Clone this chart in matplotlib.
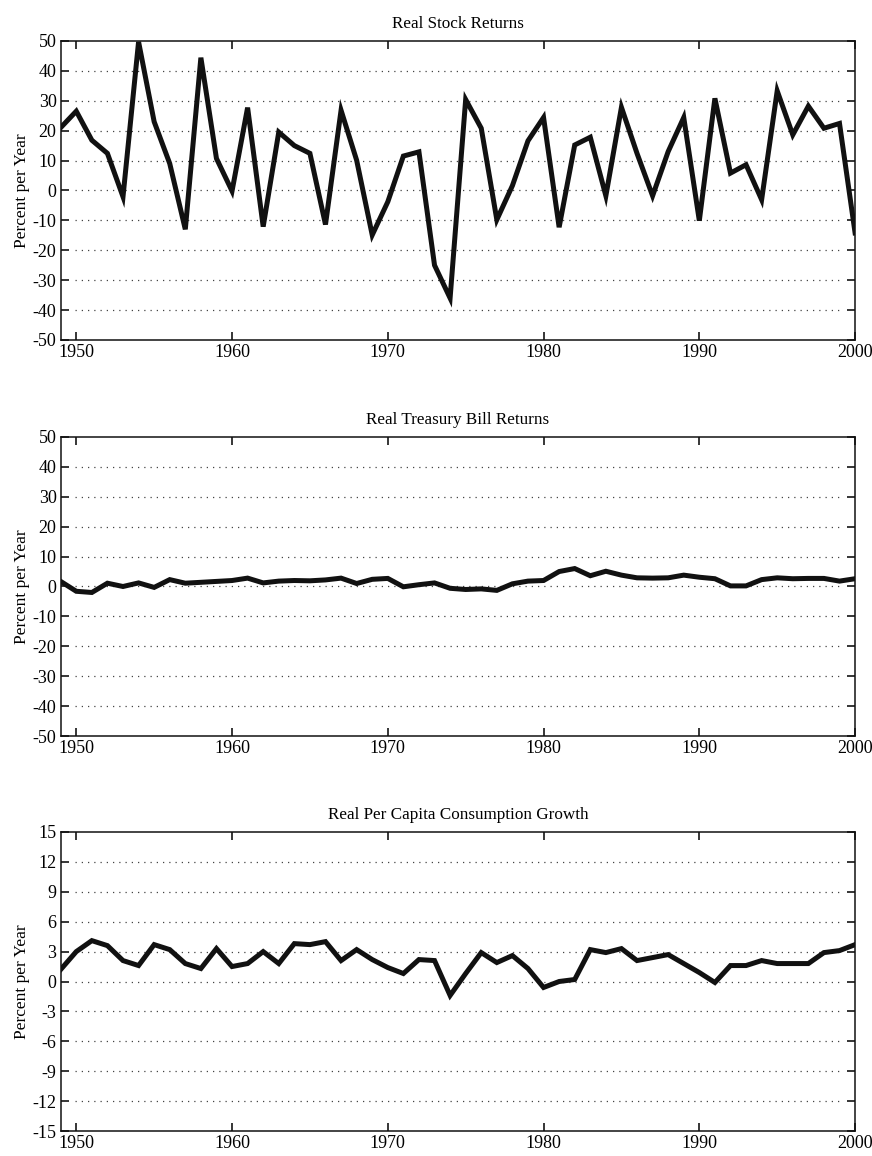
import numpy as np
import matplotlib
matplotlib.use("Agg")
import matplotlib.pyplot as plt

years = np.arange(1949, 2001)

stock = [21, 26.5, 16.8, 12.4, -2.1, 49.7, 23, 9, -13, 44.4,
         10.7, -0.2, 27.7, -12.1, 19.5, 15, 12.4, -11.4, 26.8, 10.1,
         -14.9, -3.8, 11.5, 12.9, -25, -36, 30.4, 20.8, -9.8, 1.6,
         16.6, 24.4, -12.3, 15.2, 17.8, -1.8, 27.8, 12.4, -1.8, 13,
         24.4, -10.1, 30.8, 5.8, 8.6, -3.1, 33.3, 18.6, 28.2, 20.8,
         22.4, -14.2]

tbill = [1.7, -1.6, -2.0, 1.1, 0.0, 1.2, -0.3, 2.3, 1.1, 1.4,
         1.7, 2.0, 2.8, 1.2, 1.8, 2.0, 1.9, 2.2, 2.8, 1.0,
         2.4, 2.7, -0.1, 0.6, 1.2, -0.6, -1.0, -0.8, -1.3, 0.9,
         1.8, 2.0, 5.0, 6.0, 3.6, 5.1, 3.8, 2.9, 2.8, 2.9,
         3.8, 3.1, 2.6, 0.2, 0.2, 2.3, 2.9, 2.6, 2.7, 2.7,
         1.8, 2.6]

cons = [1.2, 3.0, 4.1, 3.6, 2.1, 1.6, 3.7, 3.2, 1.8, 1.3,
        3.3, 1.5, 1.8, 3.0, 1.8, 3.8, 3.7, 4.0, 2.1, 3.2,
        2.2, 1.4, 0.8, 2.2, 2.1, -1.4, 0.8, 2.9, 1.9, 2.6,
        1.3, -0.6, 0.0, 0.2, 3.2, 2.9, 3.3, 2.1, 2.4, 2.7,
        1.8, 0.9, -0.1, 1.6, 1.6, 2.1, 1.8, 1.8, 1.8, 2.9,
        3.1, 3.7]

titles = ["Real Stock Returns", "Real Treasury Bill Returns",
          "Real Per Capita Consumption Growth"]
series = [stock, tbill, cons]
yticks = [np.arange(-50, 51, 10), np.arange(-50, 51, 10), np.arange(-15, 16, 3)]
xticks = [1950, 1960, 1970, 1980, 1990, 2000]

plt.rcParams["font.family"] = ["Liberation Serif", "DejaVu Serif"]
plt.rcParams["axes.unicode_minus"] = False

fig = plt.figure(figsize=(8.72, 11.56), dpi=100)
bottoms = [0.7059, 0.3633, 0.0216]

for b, title, y, yt in zip(bottoms, titles, series, yticks):
    ax = fig.add_axes([0.0696, b, 0.911, 0.2587])
    for v in yt[1:-1]:
        ax.axhline(v, xmin=0.018, xmax=0.985, color="#444444",
                   linestyle=(0, (1, 4)), linewidth=0.9, zorder=1)
    ax.plot(years, y, color="#111111", linewidth=3.6, zorder=3,
            solid_joinstyle="miter")
    ax.set_xlim(1949, 2000)
    ax.set_ylim(yt[0], yt[-1])
    ax.set_xticks(xticks)
    ax.set_yticks(yt)
    ax.tick_params(direction="in", length=5.5, width=1.1, labelsize=13,
                   top=True, right=True, pad=3)
    ax.set_ylabel("Percent per Year", fontsize=12.5, labelpad=2)
    ax.set_title(title, fontsize=12.3, pad=9)
    for s in ax.spines.values():
        s.set_linewidth(1.1)
        s.set_color("#111111")

fig.savefig("out.png", dpi=100)
